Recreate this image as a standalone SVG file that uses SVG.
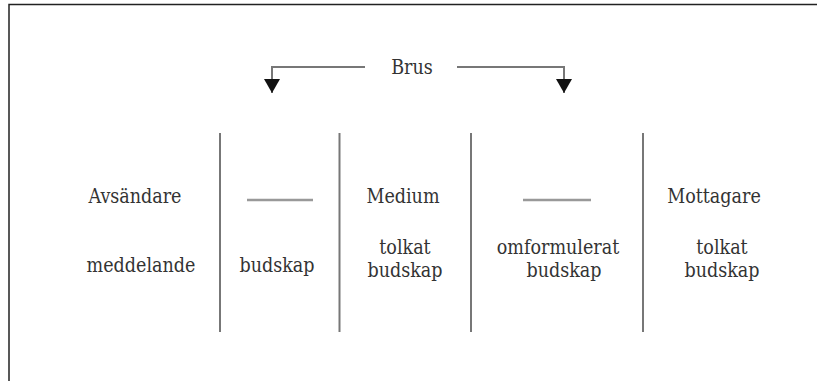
<svg xmlns="http://www.w3.org/2000/svg" width="817" height="381" viewBox="0 0 817 381">
<defs>
<style>
text{font-family:'DejaVu Serif Condensed','DejaVu Serif',serif;font-stretch:condensed;font-size:19.5px;fill:#333;text-anchor:middle}
.div{stroke:#777;stroke-width:2;fill:none}
.dash{stroke:#999;stroke-width:2.5;fill:none}
.conn{stroke:#777;stroke-width:2;fill:none}
.frame{stroke:#222;stroke-width:1.5;fill:none}
</style>
<marker id="ah" markerUnits="userSpaceOnUse" markerWidth="16" markerHeight="16" viewBox="0 0 16 16" refX="8" refY="14" orient="0">
<path d="M0,0 L16,0 L8,14 Z" fill="#111"/>
</marker>
</defs>
<rect width="817" height="381" fill="#fff"/>
<path class="frame" d="M9,381 V4.5 H817"/>
<g id="brus"><text x="412" y="74">Brus</text></g>
<g id="connectors">
<path class="conn" d="M365,67 H272 V93" marker-end="url(#ah)"/>
<path class="conn" d="M457,67 H564 V93" marker-end="url(#ah)"/>
</g>
<g id="dividers">
<line class="div" x1="220" y1="133" x2="220" y2="332"/>
<line class="div" x1="339.5" y1="133" x2="339.5" y2="332"/>
<line class="div" x1="471" y1="133" x2="471" y2="332"/>
<line class="div" x1="643" y1="133" x2="643" y2="332"/>
</g>
<g id="avsandare">
<text x="135" y="203">Avsändare</text>
<text x="141" y="272">meddelande</text>
</g>
<g id="kanal1">
<line class="dash" x1="247" y1="200" x2="313" y2="200"/>
<text x="277" y="272">budskap</text>
</g>
<g id="medium">
<text x="403" y="203">Medium</text>
<text x="405" y="254">tolkat</text>
<text x="405" y="277">budskap</text>
</g>
<g id="kanal2">
<line class="dash" x1="523" y1="200" x2="591" y2="200"/>
<text x="558" y="254">omformulerat</text>
<text x="564" y="277">budskap</text>
</g>
<g id="mottagare">
<text x="714" y="203">Mottagare</text>
<text x="722" y="254">tolkat</text>
<text x="722" y="277">budskap</text>
</g>
</svg>
